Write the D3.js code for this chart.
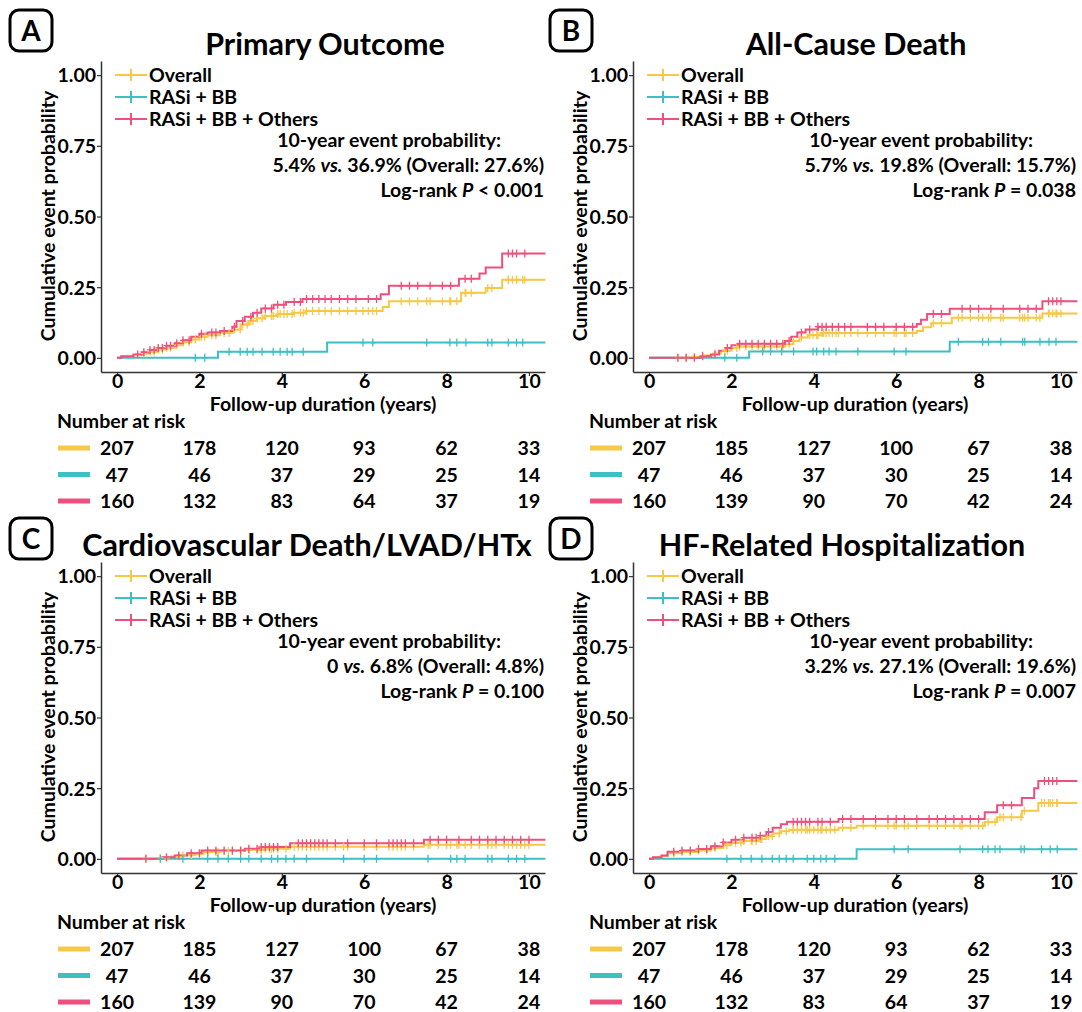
<!DOCTYPE html>
<html>
<head>
<meta charset="utf-8">
<script src="https://cdn.jsdelivr.net/npm/d3@7"></script>
<style>
body { margin: 0; background: #fff; }
text { font-family: Lato, "Open Sans", sans-serif; font-weight: 700; fill: #000; }
</style>
</head>
<body>
<div id="chart"></div>
<script>
// ---- data ----
var groups = ["Overall", "RASi + BB", "RASi + BB + Others"];
var groupColors = ["#F6C846", "#3CC0C4", "#EE4F7C"];
var xTicks = [0, 2, 4, 6, 8, 10];
var yTicks = [0, 0.25, 0.5, 0.75, 1];
var riskTimes = [0, 2, 4, 6, 8, 10];

var letters = ["A", "B", "C", "D"];
var titles = ["Primary Outcome", "All-Cause Death", "Cardiovascular Death/LVAD/HTx", "HF-Related Hospitalization"];
var probRASi = ["5.4%", "5.7%", "0", "3.2%"];
var probOthers = ["36.9%", "19.8%", "6.8%", "27.1%"];
var probOverall = ["27.6%", "15.7%", "4.8%", "19.6%"];
var pValues = ["< 0.001", "= 0.038", "= 0.100", "= 0.007"];

var riskA = [[207, 178, 120, 93, 62, 33], [47, 46, 37, 29, 25, 14], [160, 132, 83, 64, 37, 19]];
var riskB = [[207, 185, 127, 100, 67, 38], [47, 46, 37, 30, 25, 14], [160, 139, 90, 70, 42, 24]];
var riskC = [[207, 185, 127, 100, 67, 38], [47, 46, 37, 30, 25, 14], [160, 139, 90, 70, 42, 24]];
var riskD = [[207, 178, 120, 93, 62, 33], [47, 46, 37, 29, 25, 14], [160, 132, 83, 64, 37, 19]];

// step curves: [years, cumulative event probability]
var overallA = [[0,0],[0.15,0.005],[0.4,0.01],[0.6,0.015],[0.8,0.022],[1.0,0.03],[1.2,0.036],[1.4,0.045],[1.6,0.055],[1.8,0.065],[2.0,0.075],[2.2,0.08],[2.5,0.088],[2.8,0.1],[3.0,0.118],[3.2,0.13],[3.4,0.14],[3.6,0.148],[3.9,0.155],[4.3,0.16],[4.6,0.166],[6.45,0.18],[6.6,0.2],[8.35,0.23],[8.95,0.247],[9.35,0.276],[10.4,0.276]];
var rasiA = [[0,0],[2.45,0.0217],[5.1,0.054],[10.4,0.054]];
var othersA = [[0,0],[0.1,0.006],[0.4,0.012],[0.6,0.02],[0.8,0.028],[1.0,0.035],[1.2,0.043],[1.4,0.052],[1.6,0.062],[1.8,0.075],[2.0,0.085],[2.2,0.09],[2.5,0.095],[2.8,0.11],[2.9,0.13],[3.1,0.145],[3.3,0.16],[3.5,0.175],[3.8,0.188],[4.1,0.198],[4.5,0.208],[6.4,0.225],[6.6,0.255],[8.3,0.28],[8.8,0.298],[8.95,0.32],[9.35,0.369],[10.4,0.369]];

var overallB = [[0,0],[1.05,0.004],[1.3,0.008],[1.55,0.015],[1.75,0.025],[2.0,0.035],[2.15,0.04],[3.3,0.048],[3.5,0.06],[3.65,0.072],[3.85,0.08],[4.2,0.088],[6.5,0.095],[6.65,0.108],[6.85,0.122],[7.35,0.142],[9.55,0.157],[10.4,0.157]];
var rasiB = [[0,0],[2.43,0.0227],[7.3,0.057],[10.4,0.057]];
var othersB = [[0,0],[1.25,0.006],[1.5,0.012],[1.7,0.025],[1.85,0.035],[2.0,0.045],[2.15,0.05],[3.3,0.06],[3.45,0.075],[3.6,0.09],[3.8,0.1],[4.1,0.11],[6.5,0.12],[6.6,0.135],[6.75,0.155],[7.3,0.174],[9.55,0.2],[10.4,0.2]];

var overallC = [[0,0],[1.0,0.004],[1.3,0.008],[1.6,0.013],[1.9,0.018],[2.1,0.024],[2.5,0.028],[3.1,0.032],[3.6,0.036],[4.2,0.043],[7.45,0.05],[10.4,0.05]];
var rasiC = [[0,0],[10.4,0]];
var othersC = [[0,0],[1.1,0.006],[1.4,0.012],[1.7,0.02],[2.05,0.03],[3.1,0.036],[3.5,0.042],[4.2,0.055],[7.45,0.068],[10.4,0.068]];

var overallD = [[0,0],[0.1,0.005],[0.3,0.01],[0.45,0.02],[0.8,0.024],[1.2,0.03],[1.5,0.038],[1.8,0.048],[2.0,0.057],[2.3,0.063],[2.7,0.07],[2.85,0.08],[3.0,0.09],[3.2,0.098],[3.4,0.103],[4.6,0.11],[5.04,0.117],[8.15,0.13],[8.45,0.147],[9.05,0.17],[9.45,0.198],[10.4,0.198]];
var rasiD = [[0,0],[5.04,0.034],[10.4,0.034]];
var othersD = [[0,0],[0.1,0.006],[0.3,0.012],[0.45,0.025],[0.8,0.03],[1.2,0.035],[1.5,0.045],[1.8,0.058],[2.0,0.068],[2.3,0.075],[2.7,0.082],[2.85,0.095],[3.0,0.11],[3.2,0.122],[3.35,0.131],[4.6,0.141],[8.15,0.165],[8.45,0.19],[9.05,0.215],[9.35,0.25],[9.45,0.275],[10.4,0.275]];

// censoring times (years); the overall group is the union of the two groups
var censorRasiA = [1.9,2.13,2.72,2.99,3.16,3.3,3.52,3.79,3.96,4.13,4.25,4.52,5.97,6.21,7.52,8.08,8.25,8.47,9.0,9.1,9.5,9.7,9.85];
var censorOthersA = [0.5,0.65,0.8,0.9,1.0,1.1,1.2,1.3,1.45,1.6,1.75,2.05,2.3,2.4,2.6,2.85,3.05,3.25,3.4,3.6,3.75,3.9,4.05,4.3,4.45,4.6,4.75,4.9,5.05,5.2,5.4,5.6,5.8,6.1,6.3,6.9,7.1,7.3,7.6,7.9,8.1,8.45,8.6,9.5,9.6,9.7,9.9];
var censorRasiB = [1.84,2.13,2.76,2.95,3.22,3.51,3.98,4.07,4.24,4.37,4.54,5.07,5.95,6.24,7.51,8.1,8.24,8.54,9.07,9.12,9.49,9.71,9.88];
var censorOthersB = [0.7,0.9,1.1,1.3,1.6,1.9,2.2,2.35,2.5,2.65,2.8,2.95,3.1,3.25,3.4,3.7,3.9,4.1,4.2,4.3,4.45,4.6,4.75,4.9,5.3,5.5,5.7,6.0,6.2,6.4,6.9,7.1,7.6,7.8,8.0,8.3,8.6,9.0,9.2,9.4,9.7,9.8,9.9,10.0];
var censorRasiC = [1.05,1.6,2.2,2.45,2.7,3.0,3.2,3.5,3.75,3.9,4.1,4.3,4.6,5.5,6.0,6.3,7.55,8.1,8.25,8.45,9.0,9.1,9.5,9.7,9.9];
var censorOthersC = [0.7,1.2,1.5,1.8,2.0,2.2,2.4,2.6,2.8,3.0,3.2,3.4,3.5,3.6,3.7,3.8,3.9,4.4,4.5,4.6,4.7,4.8,4.9,5.0,5.1,5.3,5.6,6.0,6.3,6.6,6.7,6.8,6.9,7.0,7.2,7.6,7.8,8.0,8.3,8.6,8.8,9.0,9.2,9.4,9.6,9.8,10.0];
var censorRasiD = [1.89,2.23,2.48,2.74,2.99,3.16,3.33,3.5,3.84,4.0,4.17,4.3,4.51,5.95,6.29,7.55,8.1,8.23,8.4,8.52,9.03,9.11,9.53,9.74,9.91];
var censorOthersD = [0.6,0.8,1.0,1.2,1.4,1.6,1.8,2.1,2.3,2.5,2.6,2.7,2.9,3.5,3.6,3.7,3.8,3.9,4.1,4.2,4.4,4.7,4.9,5.2,5.5,5.8,6.0,6.2,6.5,6.8,7.0,7.2,7.4,7.6,7.8,8.0,8.6,8.8,9.6,9.7,9.8,9.9];

// ---- layout ----
var W = 1082, H = 1012;
var FS = "19.5px";
var panels = [
	{ ox: 0,   oy: 0,   box: [10, 10],   titleX: 325, curves: [overallA, rasiA, othersA], censor: [censorRasiA, censorOthersA], risk: riskA },
	{ ox: 532, oy: 0,   box: [550, 10],  titleX: 856, curves: [overallB, rasiB, othersB], censor: [censorRasiB, censorOthersB], risk: riskB },
	{ ox: 0,   oy: 501, box: [10, 518],  titleX: 307, curves: [overallC, rasiC, othersC], censor: [censorRasiC, censorOthersC], risk: riskC },
	{ ox: 532, oy: 501, box: [550, 518], titleX: 842, curves: [overallD, rasiD, othersD], censor: [censorRasiD, censorOthersD], risk: riskD }
];

var svg = d3.select("#chart").append("svg")
	.attr("width", W)
	.attr("height", H)
	.style("background", "#fff");

function valueAt(steps, t) {
	var v = 0;
	for (var i = 0; i < steps.length; i++) {
		if (steps[i][0] <= t) v = steps[i][1];
	}
	return v;
}

panels.forEach(function (p, i) {
	var g = svg.append("g");
	var x = d3.scaleLinear().domain([-0.39, 10.39]).range([p.ox + 101, p.ox + 545]);
	var y = d3.scaleLinear().domain([-0.05, 1.05]).range([p.oy + 372, p.oy + 61]);

	// panel letter
	g.append("rect")
		.attr("x", p.box[0]).attr("y", p.box[1])
		.attr("width", 42).attr("height", 41)
		.attr("rx", 9)
		.attr("fill", "none").attr("stroke", "#000").attr("stroke-width", 3);
	g.append("text")
		.attr("x", p.box[0] + 21).attr("y", p.box[1] + 31)
		.attr("text-anchor", "middle")
		.style("font-size", "28px")
		.text(letters[i]);

	// title
	g.append("text")
		.attr("x", p.titleX).attr("y", p.oy + 55)
		.attr("text-anchor", "middle")
		.style("font-size", "30.5px")
		.text(titles[i]);

	// axes
	var ya = g.append("g")
		.attr("transform", "translate(" + (p.ox + 101) + ",0)")
		.call(d3.axisLeft(y).tickValues(yTicks).tickFormat(d3.format(".2f")).tickSize(4).tickSizeOuter(0));
	var xa = g.append("g")
		.attr("transform", "translate(0," + (p.oy + 372) + ")")
		.call(d3.axisBottom(x).tickValues(xTicks).tickSize(4).tickSizeOuter(0));
	[ya, xa].forEach(function (a) {
		a.select(".domain").attr("stroke", "#333").attr("stroke-width", 1.5);
		a.selectAll(".tick line").attr("stroke", "#333").attr("stroke-width", 1.2);
		a.selectAll(".tick text")
			.style("font-family", "Lato, sans-serif")
			.style("font-weight", 700)
			.style("font-size", FS)
			.attr("fill", "#000");
	});
	ya.selectAll(".tick text").attr("x", -5).attr("dy", "0.35em");
	xa.selectAll(".tick text").attr("y", 15.5).attr("dy", 0);

	g.append("text")
		.attr("transform", "translate(" + (p.ox + 55) + "," + (p.oy + 216) + ") rotate(-90)")
		.attr("text-anchor", "middle")
		.style("font-size", FS)
		.text("Cumulative event probability");
	g.append("text")
		.attr("x", p.ox + 323).attr("y", p.oy + 411)
		.attr("text-anchor", "middle")
		.style("font-size", FS)
		.text("Follow-up duration (years)");

	// curves
	var line = d3.line()
		.x(function (d) { return x(d[0]); })
		.y(function (d) { return y(d[1]); })
		.curve(d3.curveStepAfter);

	var censorSets = [p.censor[0].concat(p.censor[1]), p.censor[0], p.censor[1]];

	p.curves.forEach(function (c, k) {
		g.append("path")
			.attr("d", line(c))
			.attr("fill", "none")
			.attr("stroke", groupColors[k])
			.attr("stroke-width", 2);
	});
	p.curves.forEach(function (c, k) {
		g.selectAll(null)
			.data(censorSets[k])
			.enter()
			.append("path")
			.attr("d", function (t) {
				var cx = x(t), cy = y(valueAt(c, t));
				return "M" + (cx - 3) + "," + cy + "H" + (cx + 3) + "M" + cx + "," + (cy - 4) + "V" + (cy + 4);
			})
			.attr("stroke", groupColors[k])
			.attr("stroke-width", 1.3)
			.attr("fill", "none");
	});

	// legend
	groups.forEach(function (name, k) {
		var ly = p.oy + 75 + k * 22;
		var lx = p.ox + 115;
		g.append("line")
			.attr("x1", lx).attr("x2", lx + 32)
			.attr("y1", ly).attr("y2", ly)
			.attr("stroke", groupColors[k]).attr("stroke-width", 2);
		g.append("path")
			.attr("d", "M" + (lx + 16) + "," + (ly - 6) + "V" + (ly + 6))
			.attr("stroke", groupColors[k]).attr("stroke-width", 2);
		g.append("text")
			.attr("x", lx + 34).attr("y", ly + 6.5)
			.style("font-size", FS)
			.text(name);
	});

	// annotation
	g.append("text")
		.attr("x", p.ox + 501).attr("y", p.oy + 147)
		.attr("text-anchor", "end")
		.style("font-size", FS)
		.text("10-year event probability:");
	var t2 = g.append("text")
		.attr("x", p.ox + 544).attr("y", p.oy + 172)
		.attr("text-anchor", "end")
		.style("font-size", FS);
	t2.append("tspan").text(probRASi[i] + " ");
	t2.append("tspan").style("font-style", "italic").text("vs.");
	t2.append("tspan").text(" " + probOthers[i] + " (Overall: " + probOverall[i] + ")");
	var t3 = g.append("text")
		.attr("x", p.ox + 544).attr("y", p.oy + 197)
		.attr("text-anchor", "end")
		.style("font-size", FS);
	t3.append("tspan").text("Log-rank ");
	t3.append("tspan").style("font-style", "italic").text("P");
	t3.append("tspan").text(" " + pValues[i]);

	// number at risk table
	g.append("text")
		.attr("x", p.ox + 57).attr("y", p.oy + 428)
		.style("font-size", FS)
		.text("Number at risk");
	p.risk.forEach(function (row, k) {
		var ry = p.oy + 448 + k * 26.5;
		g.append("line")
			.attr("x1", p.ox + 58).attr("x2", p.ox + 90)
			.attr("y1", ry).attr("y2", ry)
			.attr("stroke", groupColors[k]).attr("stroke-width", 5);
		g.selectAll(null)
			.data(row)
			.enter()
			.append("text")
			.attr("x", function (d, j) { return x(riskTimes[j]); })
			.attr("y", ry + 7)
			.attr("text-anchor", "middle")
			.style("font-size", FS)
			.text(function (d) { return d; });
	});
});
</script>
</body>
</html>
